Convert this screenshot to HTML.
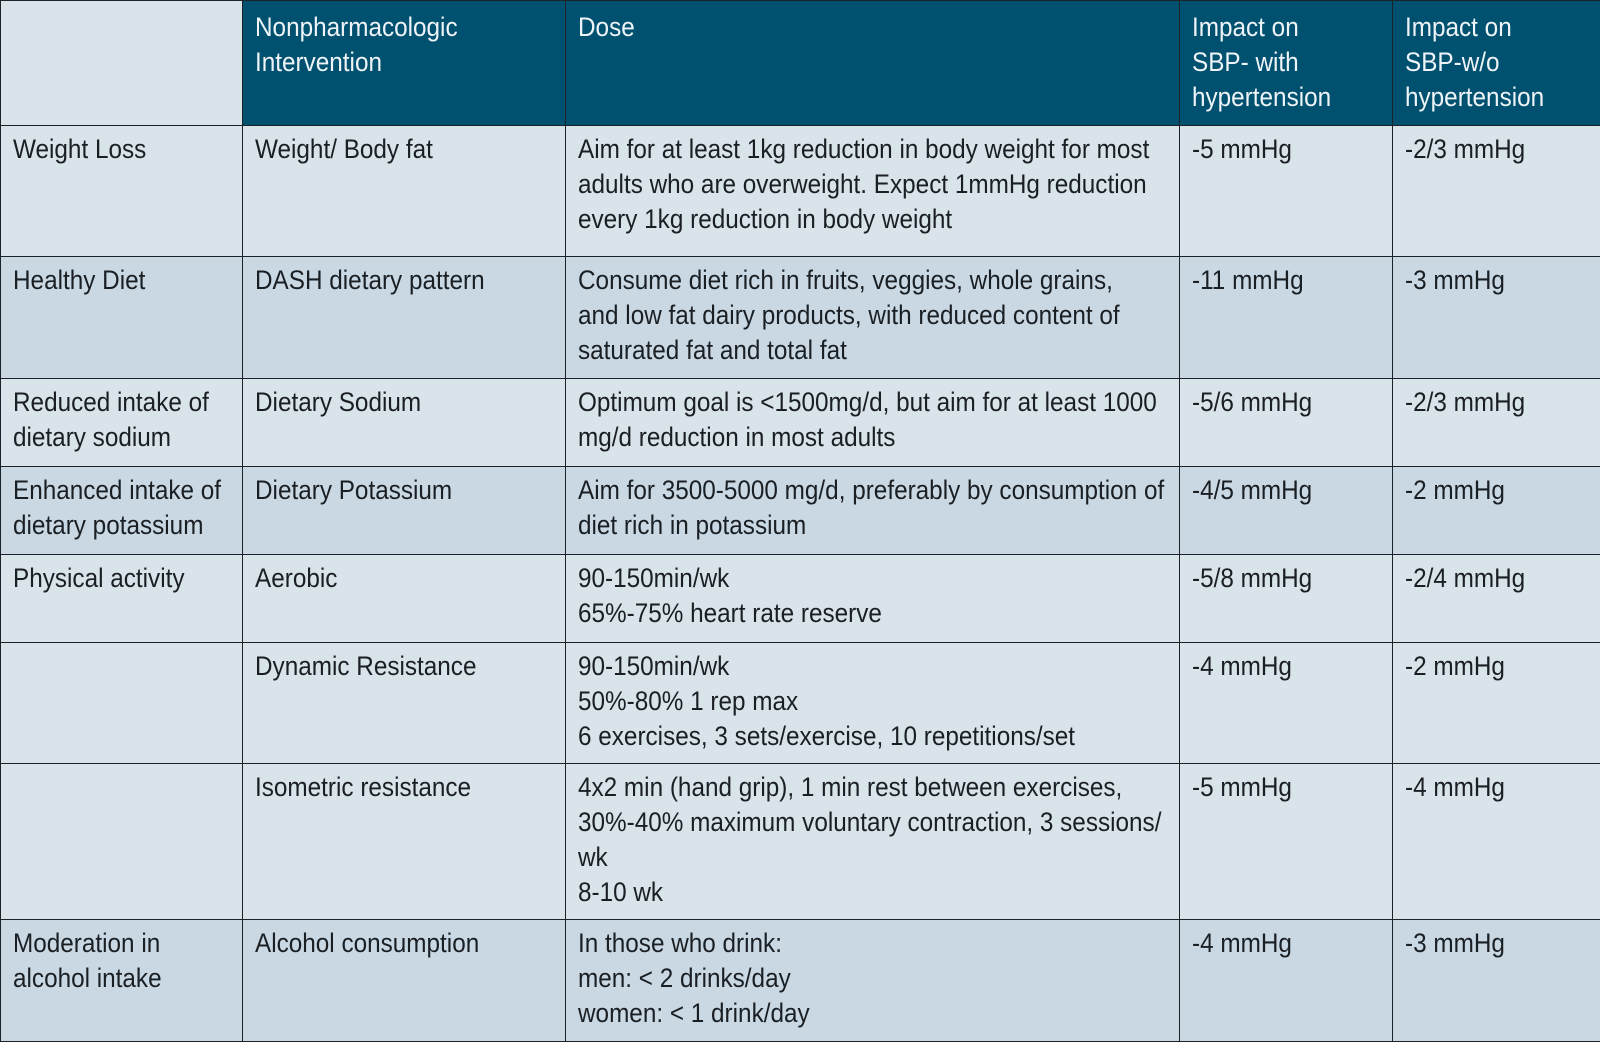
<!DOCTYPE html>
<html><head><meta charset="utf-8"><style>
html,body{margin:0;padding:0;background:#fff;}
body{width:1600px;height:1047px;position:relative;overflow:hidden;font-family:"Liberation Sans",sans-serif;font-size:27px;line-height:35px;color:#1a1f24;}
.c{position:absolute;box-sizing:border-box;border:1px solid #1c2328;padding:6px 12px;white-space:nowrap;}
.c>span{display:inline-block;transform:scaleX(0.9);transform-origin:left top;}
.h{background:#00506f;color:#eef4f7;padding-top:9px;}
.l{background:#d8e3ea;}
.d{background:#c9d8e3;}
</style></head><body>
<div class="c l" style="left:0;top:0;width:243px;height:126px"></div>
<div class="c h" style="left:242px;top:0;width:324px;height:126px"><span>Nonpharmacologic<br>Intervention</span></div>
<div class="c h" style="left:565px;top:0;width:615px;height:126px"><span>Dose</span></div>
<div class="c h" style="left:1179px;top:0;width:214px;height:126px"><span>Impact on<br>SBP- with<br>hypertension</span></div>
<div class="c h" style="left:1392px;top:0;width:210px;height:126px"><span>Impact on<br>SBP-w/o<br>hypertension</span></div>

<div class="c l" style="left:0;top:125px;width:243px;height:132px"><span>Weight Loss</span></div>
<div class="c l" style="left:242px;top:125px;width:324px;height:132px"><span>Weight/ Body fat</span></div>
<div class="c l" style="left:565px;top:125px;width:615px;height:132px"><span>Aim for at least 1kg reduction in body weight for most<br>adults who are overweight. Expect 1mmHg reduction<br>every 1kg reduction in body weight</span></div>
<div class="c l" style="left:1179px;top:125px;width:214px;height:132px"><span>-5 mmHg</span></div>
<div class="c l" style="left:1392px;top:125px;width:210px;height:132px"><span>-2/3 mmHg</span></div>

<div class="c d" style="left:0;top:256px;width:243px;height:123px"><span>Healthy Diet</span></div>
<div class="c d" style="left:242px;top:256px;width:324px;height:123px"><span>DASH dietary pattern</span></div>
<div class="c d" style="left:565px;top:256px;width:615px;height:123px"><span>Consume diet rich in fruits, veggies, whole grains,<br>and low fat dairy products, with reduced content of<br>saturated fat and total fat</span></div>
<div class="c d" style="left:1179px;top:256px;width:214px;height:123px"><span>-11 mmHg</span></div>
<div class="c d" style="left:1392px;top:256px;width:210px;height:123px"><span>-3 mmHg</span></div>

<div class="c l" style="left:0;top:378px;width:243px;height:89px"><span>Reduced intake of<br>dietary sodium</span></div>
<div class="c l" style="left:242px;top:378px;width:324px;height:89px"><span>Dietary Sodium</span></div>
<div class="c l" style="left:565px;top:378px;width:615px;height:89px"><span>Optimum goal is &lt;1500mg/d, but aim for at least 1000<br>mg/d reduction in most adults</span></div>
<div class="c l" style="left:1179px;top:378px;width:214px;height:89px"><span>-5/6 mmHg</span></div>
<div class="c l" style="left:1392px;top:378px;width:210px;height:89px"><span>-2/3 mmHg</span></div>

<div class="c d" style="left:0;top:466px;width:243px;height:89px"><span>Enhanced intake of<br>dietary potassium</span></div>
<div class="c d" style="left:242px;top:466px;width:324px;height:89px"><span>Dietary Potassium</span></div>
<div class="c d" style="left:565px;top:466px;width:615px;height:89px"><span>Aim for 3500-5000 mg/d, preferably by consumption of<br>diet rich in potassium</span></div>
<div class="c d" style="left:1179px;top:466px;width:214px;height:89px"><span>-4/5 mmHg</span></div>
<div class="c d" style="left:1392px;top:466px;width:210px;height:89px"><span>-2 mmHg</span></div>

<div class="c l" style="left:0;top:554px;width:243px;height:89px"><span>Physical activity</span></div>
<div class="c l" style="left:242px;top:554px;width:324px;height:89px"><span>Aerobic</span></div>
<div class="c l" style="left:565px;top:554px;width:615px;height:89px"><span>90-150min/wk<br>65%-75% heart rate reserve</span></div>
<div class="c l" style="left:1179px;top:554px;width:214px;height:89px"><span>-5/8 mmHg</span></div>
<div class="c l" style="left:1392px;top:554px;width:210px;height:89px"><span>-2/4 mmHg</span></div>

<div class="c l" style="left:0;top:642px;width:243px;height:122px"></div>
<div class="c l" style="left:242px;top:642px;width:324px;height:122px"><span>Dynamic Resistance</span></div>
<div class="c l" style="left:565px;top:642px;width:615px;height:122px"><span>90-150min/wk<br>50%-80% 1 rep max<br>6 exercises, 3 sets/exercise, 10 repetitions/set</span></div>
<div class="c l" style="left:1179px;top:642px;width:214px;height:122px"><span>-4 mmHg</span></div>
<div class="c l" style="left:1392px;top:642px;width:210px;height:122px"><span>-2 mmHg</span></div>

<div class="c l" style="left:0;top:763px;width:243px;height:157px"></div>
<div class="c l" style="left:242px;top:763px;width:324px;height:157px"><span>Isometric resistance</span></div>
<div class="c l" style="left:565px;top:763px;width:615px;height:157px"><span>4x2 min (hand grip), 1 min rest between exercises,<br>30%-40% maximum voluntary contraction, 3 sessions/<br>wk<br>8-10 wk</span></div>
<div class="c l" style="left:1179px;top:763px;width:214px;height:157px"><span>-5 mmHg</span></div>
<div class="c l" style="left:1392px;top:763px;width:210px;height:157px"><span>-4 mmHg</span></div>

<div class="c d" style="left:0;top:919px;width:243px;height:123px"><span>Moderation in<br>alcohol intake</span></div>
<div class="c d" style="left:242px;top:919px;width:324px;height:123px"><span>Alcohol consumption</span></div>
<div class="c d" style="left:565px;top:919px;width:615px;height:123px"><span>In those who drink:<br>men: &lt; 2 drinks/day<br>women: &lt; 1 drink/day</span></div>
<div class="c d" style="left:1179px;top:919px;width:214px;height:123px"><span>-4 mmHg</span></div>
<div class="c d" style="left:1392px;top:919px;width:210px;height:123px"><span>-3 mmHg</span></div>
</body></html>
